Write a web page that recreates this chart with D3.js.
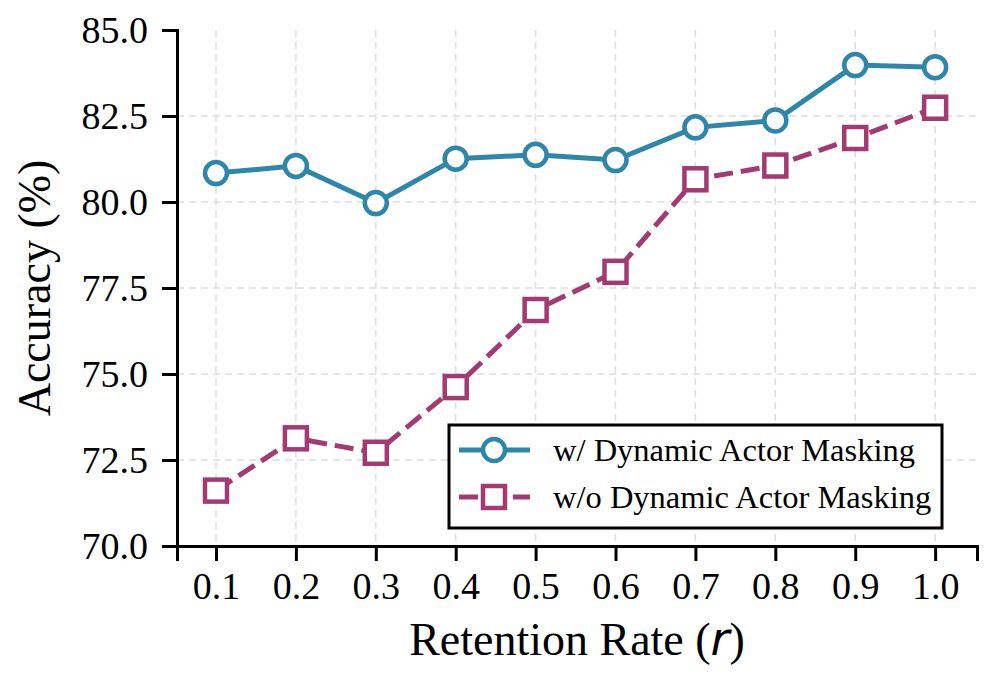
<!DOCTYPE html>
<html>
<head>
<meta charset="utf-8">
<script src="https://cdn.jsdelivr.net/npm/d3@7"></script>
<style>
  body { margin: 0; background: #fff; }
  svg text { font-family: "Liberation Serif", "Times New Roman", serif; fill: #000; }
</style>
</head>
<body>
<svg id="chart"></svg>
<script>
// data
var rates = [0.1, 0.2, 0.3, 0.4, 0.5, 0.6, 0.7, 0.8, 0.9, 1.0];
var withMasking = [80.84, 81.05, 79.97, 81.26, 81.37, 81.22, 82.17, 82.37, 83.98, 83.92];
var withoutMasking = [71.61, 73.13, 72.71, 74.62, 76.86, 77.97, 80.66, 81.06, 81.86, 82.74];
var yTicks = [70.0, 72.5, 75.0, 77.5, 80.0, 82.5, 85.0];
var seriesNames = ["w/ Dynamic Actor Masking", "w/o Dynamic Actor Masking"];
var seriesColors = ["#2E86AB", "#A23B72"];

function drawChart() {
    var width = 990, height = 690;
    var plotLeft = 177, plotRight = 977, plotTop = 30, plotBottom = 546;

    var svg = d3.select("#chart").attr("width", width).attr("height", height);

    var x = d3.scaleLinear().domain([0.1 - 0.0488, 1.0 + 0.0524]).range([plotLeft, plotRight]);
    var y = d3.scaleLinear().domain([70, 85]).range([plotBottom, plotTop]);

    // grid
    var grid = svg.append("g");
    grid.selectAll(".vg").data(rates).enter().append("line")
        .attr("x1", function (d) { return x(d); }).attr("x2", function (d) { return x(d); })
        .attr("y1", plotTop).attr("y2", plotBottom)
        .style("stroke", "#dddddd").style("stroke-width", 1.5).style("stroke-dasharray", "7,5");
    grid.selectAll(".hg").data(yTicks.filter(function (d) { return d > 70 && d < 85; })).enter().append("line")
        .attr("x1", plotLeft).attr("x2", plotRight)
        .attr("y1", function (d) { return y(d); }).attr("y2", function (d) { return y(d); })
        .style("stroke", "#dddddd").style("stroke-width", 1.5).style("stroke-dasharray", "7,5");

    // axes
    var xAxis = svg.append("g").attr("transform", "translate(0," + plotBottom + ")")
        .call(d3.axisBottom(x).tickValues(rates).tickFormat(d3.format(".1f")).tickSizeOuter(0).tickSize(15).tickPadding(11));
    var yAxis = svg.append("g").attr("transform", "translate(" + plotLeft + ",0)")
        .call(d3.axisLeft(y).tickValues(yTicks).tickFormat(d3.format(".1f")).tickSizeOuter(0).tickSize(15).tickPadding(14));

    [xAxis, yAxis].forEach(function (a) {
        a.select(".domain").style("stroke", "#000").style("stroke-width", 3);
        a.selectAll(".tick line").style("stroke", "#000").style("stroke-width", 3);
        a.selectAll(".tick text").style("font-family", "Liberation Serif").style("font-size", "38px").style("fill", "#000");
    });

    // lines
    var line = d3.line().x(function (d, i) { return x(rates[i]); }).y(function (d) { return y(d); });

    svg.append("path").datum(withMasking).attr("d", line)
        .style("fill", "none").style("stroke", seriesColors[0]).style("stroke-width", 5);
    svg.append("path").datum(withoutMasking).attr("d", line)
        .style("fill", "none").style("stroke", seriesColors[1]).style("stroke-width", 5)
        .style("stroke-dasharray", "19,8");

    svg.selectAll(".c").data(withMasking).enter().append("circle")
        .attr("cx", function (d, i) { return x(rates[i]); })
        .attr("cy", function (d) { return y(d); })
        .attr("r", 11)
        .style("fill", "#fff").style("stroke", seriesColors[0]).style("stroke-width", 4.5);

    svg.selectAll(".s").data(withoutMasking).enter().append("rect")
        .attr("x", function (d, i) { return x(rates[i]) - 11; })
        .attr("y", function (d) { return y(d) - 11; })
        .attr("width", 22).attr("height", 22)
        .style("fill", "#fff").style("stroke", seriesColors[1]).style("stroke-width", 4.5);

    // legend
    var lg = svg.append("g");
    lg.append("rect").attr("x", 449).attr("y", 425).attr("width", 493).attr("height", 103)
        .style("fill", "#fff").style("stroke", "#000").style("stroke-width", 3);

    var rowY = [450, 497];
    seriesNames.forEach(function (name, i) {
        var g = lg.append("g").attr("transform", "translate(0," + rowY[i] + ")");
        g.append("line").attr("x1", 459).attr("x2", 530).attr("y1", 0).attr("y2", 0)
            .style("stroke", seriesColors[i]).style("stroke-width", 5)
            .style("stroke-dasharray", i === 1 ? "19,8" : null);
        if (i === 0) {
            g.append("circle").attr("cx", 494).attr("cy", 0).attr("r", 11)
                .style("fill", "#fff").style("stroke", seriesColors[i]).style("stroke-width", 4.5);
        } else {
            g.append("rect").attr("x", 483).attr("y", -11).attr("width", 22).attr("height", 22)
                .style("fill", "#fff").style("stroke", seriesColors[i]).style("stroke-width", 4.5);
        }
        g.append("text").attr("x", 553).attr("y", 11).style("font-size", "32.5px").text(name);
    });

    // axis labels
    var xl = svg.append("text").attr("x", (plotLeft + plotRight) / 2).attr("y", 655)
        .attr("text-anchor", "middle").style("font-size", "46px");
    xl.append("tspan").text("Retention Rate (");
    xl.append("tspan").style("font-family", "DejaVu Sans").style("font-style", "italic").text("r");
    xl.append("tspan").text(")");

    svg.append("text")
        .attr("transform", "translate(50," + ((plotTop + plotBottom) / 2) + ") rotate(-90)")
        .attr("text-anchor", "middle").style("font-size", "46px")
        .text("Accuracy (%)");
}

drawChart();
</script>
</body>
</html>
